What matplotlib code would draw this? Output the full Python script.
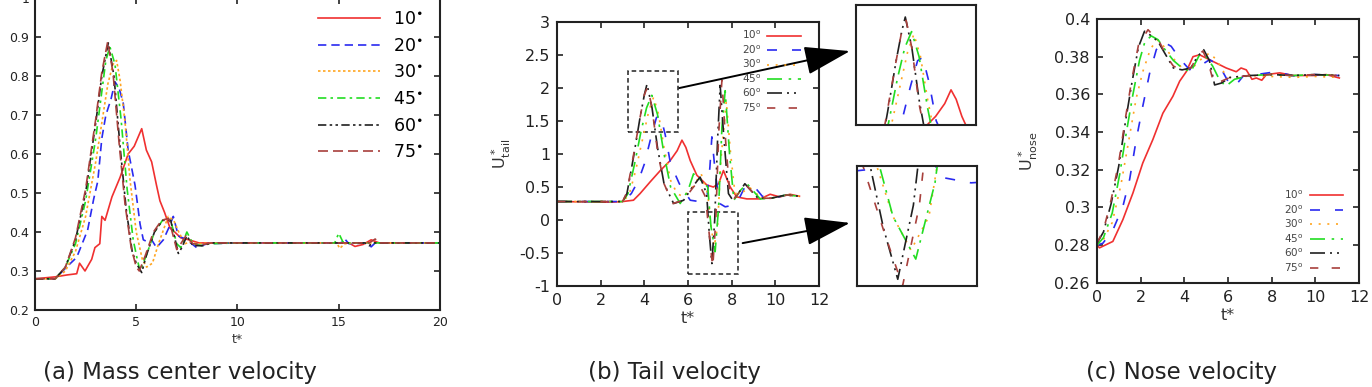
import matplotlib
matplotlib.use('Agg')
import matplotlib.pyplot as plt
from matplotlib.patches import Rectangle

plt.rcParams['font.family'] = 'DejaVu Sans'

angles = ['10', '20', '30', '45', '60', '75']
colors = ['#f03030', '#2a2af0', '#ffa520', '#22dd22', '#202020', '#a8403c']

# (a) mass center velocity
a_t10 = [0, 1, 1.6, 2.06, 2.2, 2.47, 2.8, 2.96, 3.2, 3.3, 3.46, 3.8, 4.2, 4.6, 4.9, 5.27, 5.5,
         5.76, 6.0, 6.17, 6.4, 6.67, 6.9, 7.2, 7.6, 8.1, 9, 12, 15.5, 15.8, 16.2, 16.6, 17, 20]
a_u10 = [0.28, 0.285, 0.29, 0.293, 0.32, 0.30, 0.33, 0.36, 0.37, 0.44, 0.43, 0.49, 0.54, 0.60, 0.62,
         0.665, 0.61, 0.58, 0.52, 0.48, 0.45, 0.41, 0.40, 0.385, 0.38, 0.372, 0.372, 0.372, 0.372,
         0.363, 0.368, 0.38, 0.372, 0.372]
a_t20 = [0, 1, 1.56, 2.06, 2.6, 2.9, 3.1, 3.3, 3.5, 3.75, 3.95, 4.15, 4.36, 4.6, 4.94, 5.19, 5.35,
         5.55, 5.76, 6.0, 6.34, 6.6, 6.83, 7.08, 7.5, 7.98, 8.5, 10, 15.1, 15.3, 15.5, 16.4, 16.6,
         16.8, 20]
a_u20 = [0.28, 0.28, 0.31, 0.335, 0.405, 0.485, 0.53, 0.64, 0.70, 0.74, 0.785, 0.77, 0.73, 0.61,
         0.52, 0.42, 0.38, 0.375, 0.38, 0.36, 0.38, 0.41, 0.44, 0.39, 0.38, 0.36, 0.37, 0.372, 0.372,
         0.382, 0.37, 0.372, 0.362, 0.372, 0.372]
a_t30 = [0, 1, 1.5, 2.0, 2.5, 3.0, 3.3, 3.6, 3.85, 4.03, 4.2, 4.45, 4.7, 5.0, 5.3, 5.51, 5.8, 6.1,
         6.58, 6.85, 7.1, 7.4, 7.7, 8.0, 9, 13.7, 14.9, 15.05, 15.3, 16, 20]
a_u30 = [0.28, 0.28, 0.30, 0.35, 0.44, 0.58, 0.68, 0.78, 0.83, 0.84, 0.79, 0.68, 0.53, 0.40, 0.33,
         0.31, 0.32, 0.37, 0.44, 0.43, 0.40, 0.37, 0.375, 0.37, 0.372, 0.372, 0.372, 0.358, 0.37,
         0.372, 0.372]
a_t45 = [0, 1, 1.5, 2.0, 2.5, 3.0, 3.3, 3.5, 3.7, 3.95, 4.25, 4.55, 4.85, 5.05, 5.19, 5.5, 5.9,
         6.3, 6.7, 7.0, 7.2, 7.5, 7.8, 8.2, 8.6, 10, 14.8, 15.0, 15.2, 15.5, 20]
a_u45 = [0.28, 0.28, 0.31, 0.37, 0.48, 0.64, 0.76, 0.84, 0.875, 0.83, 0.69, 0.51, 0.38, 0.33, 0.30,
         0.34, 0.40, 0.43, 0.43, 0.37, 0.36, 0.40, 0.37, 0.365, 0.37, 0.372, 0.372, 0.397, 0.375,
         0.372, 0.372]
a_t60 = [0, 1, 1.5, 2.0, 2.5, 3.0, 3.3, 3.62, 3.9, 4.2, 4.5, 4.8, 5.0, 5.27, 5.5, 5.9, 6.3, 6.7,
         7.08, 7.25, 7.5, 7.8, 8.3, 8.7, 12, 16.3, 16.5, 16.7, 20]
a_u60 = [0.28, 0.28, 0.31, 0.38, 0.50, 0.68, 0.80, 0.885, 0.80, 0.62, 0.46, 0.35, 0.32, 0.296, 0.34,
         0.40, 0.43, 0.43, 0.345, 0.36, 0.39, 0.365, 0.365, 0.372, 0.372, 0.372, 0.365, 0.372,
         0.372]
a_t75 = [0, 1, 1.5, 2.0, 2.5, 3.0, 3.3, 3.59, 3.85, 4.15, 4.45, 4.75, 5.0, 5.15, 5.45, 5.85, 6.25,
         6.6, 7.0, 7.2, 7.45, 7.8, 8.3, 8.7, 12, 16.5, 16.8, 17.0, 20]
a_u75 = [0.28, 0.28, 0.31, 0.385, 0.51, 0.69, 0.81, 0.888, 0.81, 0.63, 0.47, 0.36, 0.31, 0.30, 0.34,
         0.40, 0.43, 0.435, 0.355, 0.37, 0.39, 0.37, 0.368, 0.372, 0.372, 0.372, 0.382, 0.372,
         0.372]

# (b) tail velocity
b_t10 = [0, 2.5, 3.0, 3.5, 3.8, 4.27, 4.73, 5.18, 5.5, 5.72, 5.9, 6.1, 6.4, 6.86, 7.16, 7.4, 7.62,
         7.93, 8.23, 8.69, 9.3, 9.76, 10.2, 10.67, 11.1]
b_u10 = [0.28, 0.27, 0.28, 0.30, 0.40, 0.58, 0.75, 0.90, 1.05, 1.21, 1.10, 0.90, 0.68, 0.53, 0.50,
         0.55, 0.75, 0.50, 0.35, 0.32, 0.32, 0.39, 0.35, 0.39, 0.36]
b_t20 = [0, 3.0, 3.4, 3.73, 4.0, 4.3, 4.55, 4.73, 4.95, 5.2, 5.6, 6.1, 6.5, 6.86, 7.0, 7.09, 7.25,
         7.45, 7.7, 8.0, 8.3, 8.6, 9.0, 9.4, 9.9, 10.5, 11.1]
b_u20 = [0.28, 0.28, 0.40, 0.60, 0.85, 1.25, 1.55, 1.59, 1.30, 0.85, 0.55, 0.30, 0.28, 0.32, 0.80,
         1.26, 0.70, 0.25, 0.20, 0.22, 0.30, 0.50, 0.52, 0.36, 0.33, 0.38, 0.36]
b_t30 = [0, 3.0, 3.3, 3.6, 3.9, 4.2, 4.42, 4.65, 4.9, 5.2, 5.5, 5.8, 6.2, 6.6, 6.9, 7.05, 7.2,
         7.35, 7.5, 7.75, 7.95, 8.15, 8.5, 8.8, 9.3, 9.8, 10.5, 11.1]
b_u30 = [0.28, 0.28, 0.38, 0.75, 1.20, 1.65, 1.86, 1.60, 1.10, 0.60, 0.40, 0.35, 0.50, 0.70, 0.40,
         -0.10, -0.40, -0.10, 0.90, 1.80, 1.00, 0.40, 0.42, 0.50, 0.35, 0.33, 0.38, 0.36]
b_t45 = [0, 3.0, 3.25, 3.55, 3.85, 4.1, 4.34, 4.6, 4.9, 5.2, 5.64, 6.0, 6.25, 6.6, 6.9, 7.05, 7.24,
         7.4, 7.55, 7.7, 7.9, 8.1, 8.4, 8.7, 9.3, 9.8, 10.5, 11.1]
b_u45 = [0.28, 0.28, 0.40, 0.85, 1.35, 1.70, 1.89, 1.60, 1.00, 0.50, 0.25, 0.45, 0.70, 0.60, 0.50,
         -0.10, -0.48, 0.20, 1.40, 1.96, 1.00, 0.30, 0.45, 0.55, 0.32, 0.33, 0.38, 0.36]
b_t60 = [0, 3.0, 3.2, 3.5, 3.8, 4.0, 4.12, 4.35, 4.6, 4.9, 5.34, 5.8, 6.2, 6.55, 6.85, 6.97, 7.09,
         7.22, 7.35, 7.47, 7.65, 7.85, 8.05, 8.3, 8.6, 9.2, 9.8, 10.5, 11.1]
b_u60 = [0.28, 0.28, 0.40, 0.95, 1.55, 1.90, 2.06, 1.70, 1.10, 0.55, 0.25, 0.30, 0.50, 0.65, 0.40,
         -0.20, -0.66, 0.00, 1.20, 2.04, 1.20, 0.40, 0.30, 0.40, 0.55, 0.33, 0.33, 0.38, 0.36]
b_t75 = [0, 3.0, 3.2, 3.5, 3.8, 4.0, 4.15, 4.35, 4.6, 4.9, 5.3, 5.8, 6.2, 6.45, 6.8, 6.98, 7.13,
         7.27, 7.4, 7.55, 7.72, 7.9, 8.05, 8.3, 8.6, 9.2, 9.8, 10.5, 11.1]
b_u75 = [0.28, 0.28, 0.42, 0.98, 1.55, 1.90, 2.02, 1.70, 1.05, 0.55, 0.25, 0.30, 0.48, 0.58, 0.35,
         -0.25, -0.72, 0.00, 1.30, 2.12, 1.20, 0.45, 0.30, 0.40, 0.55, 0.33, 0.33, 0.38, 0.36]

# (c) nose velocity
c_t10 = [0, 0.12, 0.73, 1.19, 1.65, 2.1, 2.56, 3.02, 3.48, 3.79, 4.09, 4.4, 4.7, 5.31, 5.92, 6.38,
         6.6, 6.84, 7.1, 7.3, 7.55, 7.76, 8.37, 9.0, 9.9, 10.5, 11.1]
c_u10 = [0.280, 0.2786, 0.282, 0.2936, 0.3077, 0.3236, 0.336, 0.350, 0.359, 0.367, 0.372, 0.380,
         0.381, 0.3775, 0.374, 0.372, 0.374, 0.373, 0.368, 0.3687, 0.3675, 0.3705, 0.3714, 0.370,
         0.370, 0.3705, 0.3687]
c_t20 = [0, 0.27, 0.73, 1.19, 1.5, 1.8, 2.1, 2.41, 2.72, 3.02, 3.4, 3.79, 4.24, 4.7, 5.16, 5.62,
         6.0, 6.3, 6.69, 7.3, 8.2, 9.1, 10.0, 11.1]
c_u20 = [0.280, 0.281, 0.288, 0.3006, 0.315, 0.336, 0.3537, 0.371, 0.3837, 0.388, 0.3855, 0.379,
         0.3731, 0.375, 0.3784, 0.375, 0.367, 0.364, 0.3696, 0.3705, 0.372, 0.3696, 0.3705, 0.370]
c_t30 = [0, 0.3, 0.7, 1.1, 1.45, 1.8, 2.1, 2.45, 2.75, 3.1, 3.5, 3.9, 4.3, 4.7, 5.16, 5.5, 5.85,
         6.2, 7.0, 8.0, 9.0, 10.0, 11.1]
c_u30 = [0.280, 0.283, 0.292, 0.312, 0.335, 0.358, 0.372, 0.384, 0.389, 0.385, 0.379, 0.374,
         0.373, 0.378, 0.382, 0.378, 0.371, 0.368, 0.370, 0.3695, 0.369, 0.3695, 0.369]
c_t45 = [0, 0.3, 0.7, 1.05, 1.35, 1.65, 1.95, 2.2, 2.49, 2.8, 3.1, 3.5, 3.9, 4.3, 4.7, 5.0, 5.3,
         5.6, 5.9, 6.3, 7.0, 8.0, 9.0, 10.0, 11.1]
c_u45 = [0.280, 0.284, 0.297, 0.318, 0.340, 0.360, 0.378, 0.388, 0.391, 0.389, 0.384, 0.378,
         0.374, 0.372, 0.381, 0.380, 0.375, 0.368, 0.3643, 0.368, 0.370, 0.3705, 0.370, 0.3705,
         0.370]
c_t60 = [0, 0.3, 0.65, 1.0, 1.3, 1.6, 1.9, 2.18, 2.5, 2.8, 3.2, 3.5, 3.9, 4.3, 4.6, 4.89, 5.15,
         5.39, 5.7, 6.1, 7.0, 8.0, 9.0, 10.0, 11.1]
c_u60 = [0.281, 0.287, 0.302, 0.322, 0.345, 0.366, 0.385, 0.3935, 0.391, 0.388, 0.380, 0.374,
         0.373, 0.374, 0.380, 0.3837, 0.378, 0.365, 0.366, 0.369, 0.370, 0.3705, 0.370, 0.3705,
         0.370]
c_t75 = [0, 0.3, 0.65, 1.0, 1.3, 1.6, 1.9, 2.34, 2.6, 2.9, 3.2, 3.5, 3.9, 4.3, 4.6, 4.85, 5.1,
         5.35, 5.7, 6.1, 7.0, 8.0, 9.0, 10.0, 11.1]
c_u75 = [0.281, 0.288, 0.304, 0.324, 0.347, 0.368, 0.386, 0.3943, 0.391, 0.387, 0.380, 0.375,
         0.373, 0.374, 0.380, 0.383, 0.377, 0.366, 0.367, 0.369, 0.370, 0.3705, 0.370, 0.3705,
         0.370]

a_series = [(a_t10, a_u10), (a_t20, a_u20), (a_t30, a_u30), (a_t45, a_u45), (a_t60, a_u60), (a_t75, a_u75)]
b_series = [(b_t10, b_u10), (b_t20, b_u20), (b_t30, b_u30), (b_t45, b_u45), (b_t60, b_u60), (b_t75, b_u75)]
c_series = [(c_t10, c_u10), (c_t20, c_u20), (c_t30, c_u30), (c_t45, c_u45), (c_t60, c_u60), (c_t75, c_u75)]

styles_a = ['-', (0, (5, 3)), (0, (1.5, 1.5)), (0, (5, 2.5, 1.5, 2.5)), (0, (5, 2, 1.5, 2, 1.5, 2)), (0, (6, 3))]
styles_bc = ['-', (0, (6, 9)), (0, (1.2, 4)), (0, (9, 4, 1.5, 4)), (0, (9, 3, 1.2, 3, 1.2, 3)), (0, (5, 8))]


def frame(ax, lw=1.5):
    for s in ax.spines.values():
        s.set_linewidth(lw)
        s.set_color('#222222')
    ax.tick_params(direction='in', top=True, right=True, length=4, width=1.2, colors='#222222')


fig = plt.figure(figsize=(13.72, 3.87), dpi=100)

# panel (a)
ax1 = fig.add_axes([0.0255, 0.199, 0.2952, 0.806])
for (t, u), ang, col, ls in zip(a_series, angles, colors, styles_a):
    ax1.plot(t, u, color=col, ls=ls, lw=1.2, label=ang + r'$^{\bullet}$')
ax1.set_xlim(0, 20)
ax1.set_ylim(0.2, 1.0)
ax1.set_xticks([0, 5, 10, 15, 20])
ax1.set_yticks([0.2, 0.3, 0.4, 0.5, 0.6, 0.7, 0.8, 0.9, 1.0])
ax1.set_yticklabels(['0.2', '0.3', '0.4', '0.5', '0.6', '0.7', '0.8', '0.9', '1'])
frame(ax1)
ax1.tick_params(labelsize=9, pad=4)
ax1.set_xlabel('t*', fontsize=9, labelpad=3, color='#333333')
ax1.legend(loc='upper left', bbox_to_anchor=(0.66, 1.012), frameon=False, fontsize=12.5,
           handlelength=3.6, labelspacing=0.5, handletextpad=0.7)

# panel (b)
ax2 = fig.add_axes([0.406, 0.261, 0.191, 0.682])
for (t, u), ang, col, ls in zip(b_series, angles, colors, styles_bc):
    ax2.plot(t, u, color=col, ls=ls, lw=1.2, label=ang + r'$^{\mathrm{o}}$')
ax2.set_xlim(0, 12)
ax2.set_ylim(-1, 3)
ax2.set_xticks(range(0, 13, 2))
ax2.set_yticks([-1, -0.5, 0, 0.5, 1, 1.5, 2, 2.5, 3])
ax2.set_yticklabels(['-1', '-0.5', '0', '0.5', '1', '1.5', '2', '2.5', '3'])
frame(ax2)
ax2.tick_params(labelsize=11.5, pad=5)
ax2.set_xlabel('t*', fontsize=11.5, labelpad=2, color='#333333')
ax2.set_ylabel(r'$\mathregular{U^*_{tail}}$', fontsize=11.5, labelpad=4, color='#333333')
leg2 = ax2.legend(loc='upper right', bbox_to_anchor=(0.965, 1.01), frameon=False, fontsize=7.5,
                  handlelength=3.2, labelspacing=0.2, handletextpad=0.6, markerfirst=False)
for txt in leg2.get_texts():
    txt.set_color('#444444')
ax2.add_patch(Rectangle((3.25, 1.33), 2.3, 0.93, fill=False, ls=(0, (3, 2)), lw=1.1, color='#222222'))
ax2.add_patch(Rectangle((6.0, -0.82), 2.3, 0.94, fill=False, ls=(0, (3, 2)), lw=1.1, color='#222222'))
ax2.annotate('', xy=(0.6195, 0.868), xycoords='figure fraction', xytext=(5.6, 2.0), textcoords='data',
             arrowprops=dict(arrowstyle='-|>,head_length=1.6,head_width=0.5', mutation_scale=18,
                             lw=1.4, color='black', shrinkA=0, shrinkB=0))
ax2.annotate('', xy=(0.6195, 0.424), xycoords='figure fraction', xytext=(8.5, -0.35), textcoords='data',
             arrowprops=dict(arrowstyle='-|>,head_length=1.6,head_width=0.5', mutation_scale=18,
                             lw=1.4, color='black', shrinkA=0, shrinkB=0))

# zoom insets for (b)
ins1 = fig.add_axes([0.624, 0.677, 0.0875, 0.31])
ins2 = fig.add_axes([0.6246, 0.261, 0.0875, 0.31])
for (t, u), col, ls in zip(b_series, colors, styles_bc):
    ins1.plot(t, u, color=col, ls=ls, lw=1.2)
    ins2.plot(t, u, color=col, ls=ls, lw=1.2)
ins1.set_xlim(2.4, 6.6)
ins1.set_ylim(0.8, 2.2)
ins2.set_xlim(6.75, 7.75)
ins2.set_ylim(-0.72, 0.35)
for ins in (ins1, ins2):
    ins.set_xticks([])
    ins.set_yticks([])
    for s in ins.spines.values():
        s.set_linewidth(1.5)
        s.set_color('#222222')

# panel (c)
ax3 = fig.add_axes([0.7995, 0.269, 0.191, 0.682])
for (t, u), ang, col, ls in zip(c_series, angles, colors, styles_bc):
    ax3.plot(t, u, color=col, ls=ls, lw=1.2, label=ang + r'$^{\mathrm{o}}$')
ax3.set_xlim(0, 12)
ax3.set_ylim(0.26, 0.4)
ax3.set_xticks(range(0, 13, 2))
ax3.set_yticks([0.26, 0.28, 0.3, 0.32, 0.34, 0.36, 0.38, 0.4])
ax3.set_yticklabels(['0.26', '0.28', '0.3', '0.32', '0.34', '0.36', '0.38', '0.4'])
frame(ax3)
ax3.tick_params(labelsize=11.5, pad=5)
ax3.set_xlabel('t*', fontsize=11.5, labelpad=2, color='#333333')
ax3.set_ylabel(r'$\mathregular{U^*_{nose}}$', fontsize=11.5, labelpad=10, color='#333333')
leg3 = ax3.legend(loc='lower right', bbox_to_anchor=(0.975, 0.0), frameon=False, fontsize=7.5,
                  handlelength=3.2, labelspacing=0.2, handletextpad=0.6, markerfirst=False)
for txt in leg3.get_texts():
    txt.set_color('#444444')

# captions
fig.text(180 / 1372, 1 - 372 / 387, '(a) Mass center velocity', ha='center', va='center', fontsize=16.5, color='#222222')
fig.text(674 / 1372, 1 - 372 / 387, '(b) Tail velocity', ha='center', va='center', fontsize=16.5, color='#222222')
fig.text(1182 / 1372, 1 - 372 / 387, '(c) Nose velocity', ha='center', va='center', fontsize=16.5, color='#222222')

fig.savefig('out.png', dpi=100)
